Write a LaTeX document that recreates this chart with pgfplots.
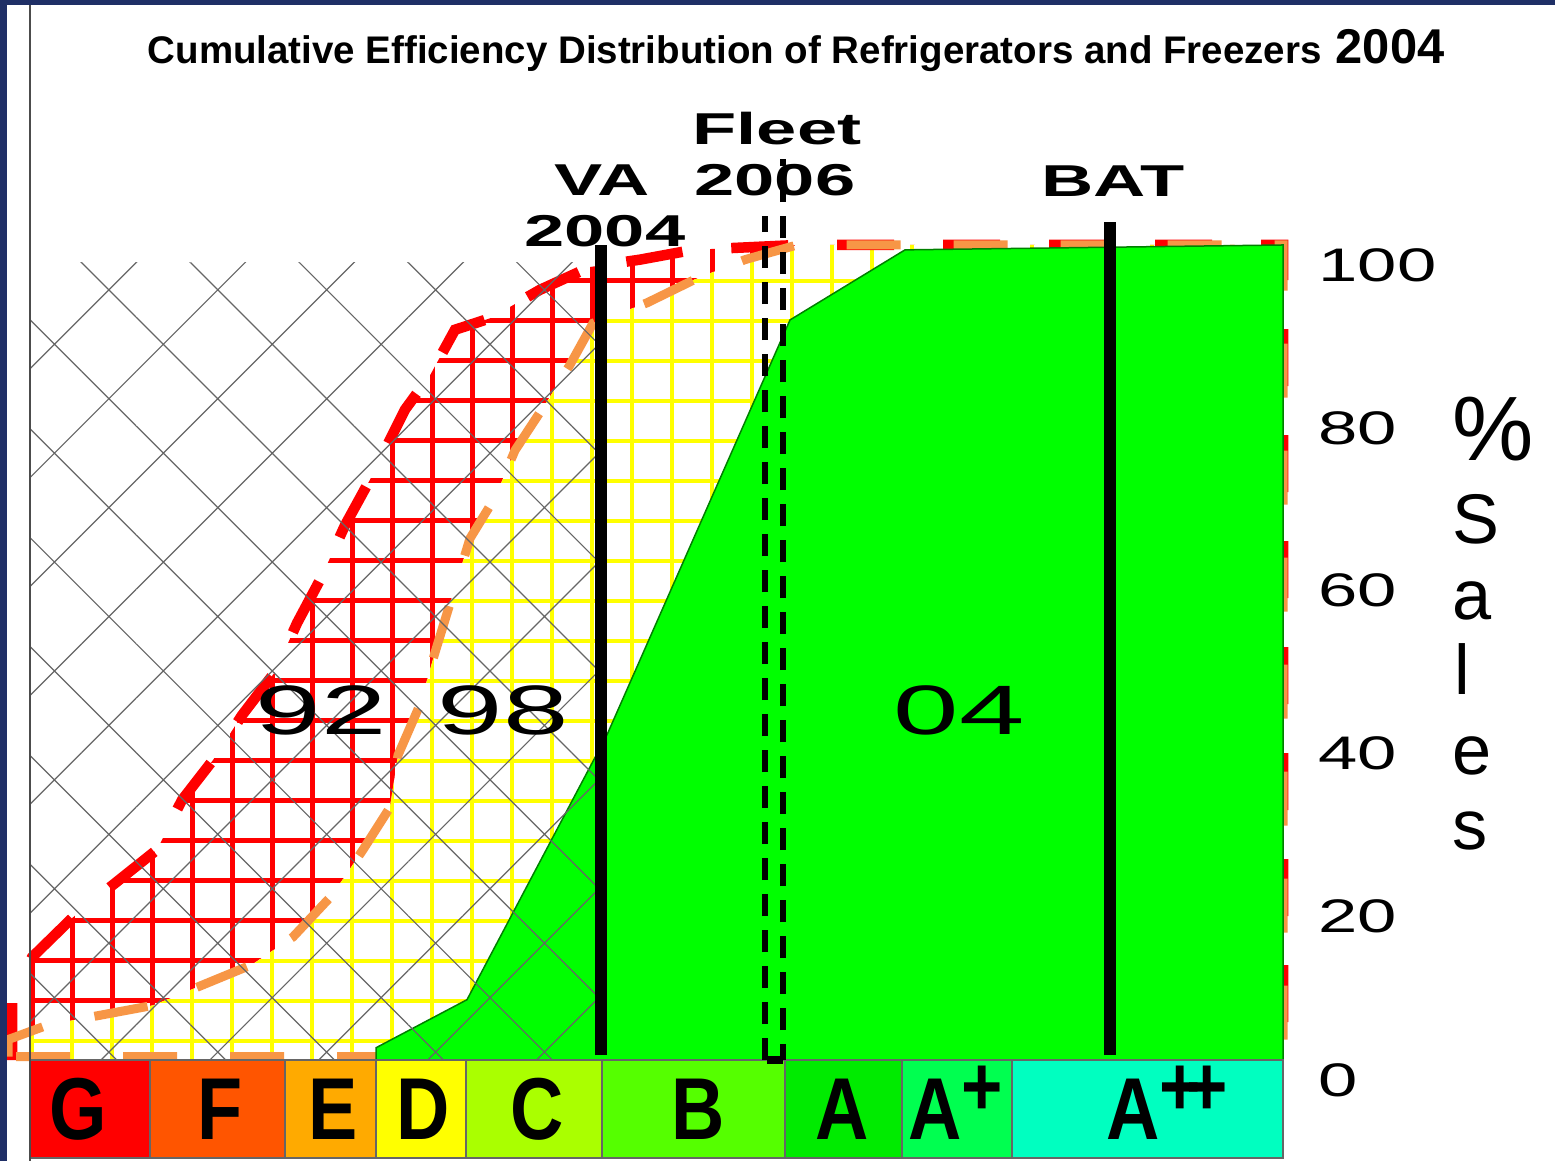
\documentclass[border=0pt]{standalone}
\usepackage{fontspec}
\setmainfont{Liberation Sans}
\newfontfamily\wideA[FakeStretch=1.62]{Liberation Sans}
\newfontfamily\wideB[FakeStretch=1.5]{Liberation Sans}
\newfontfamily\wideC[FakeStretch=1.68]{Liberation Sans}
\newfontfamily\narrowA[FakeStretch=0.84]{Liberation Sans}
\usepackage{pgfplots}
\pgfplotsset{compat=1.18}
\usepackage{pgfplotstable}
\usetikzlibrary{patterns.meta}

\definecolor{navy}{RGB}{31,47,102}
\definecolor{dashorange}{RGB}{247,150,70}
\definecolor{cG}{RGB}{255,0,0}
\definecolor{cF}{RGB}{255,85,0}
\definecolor{cE}{RGB}{255,170,0}
\definecolor{cD}{RGB}{255,255,0}
\definecolor{cC}{RGB}{170,255,0}
\definecolor{cB}{RGB}{85,255,0}
\definecolor{cA}{RGB}{0,235,0}
\definecolor{cAp}{RGB}{0,255,80}
\definecolor{cApp}{RGB}{0,255,192}
\definecolor{grn}{RGB}{0,255,0}

% cumulative distribution 1992 (red)
\pgfplotstableread{
x y
12 0
12 7.7
32 12.6
72 17.4
110 21.2
157 25.8
182 31.9
213 36.8
242 42.3
275 47.6
297 53.6
320 58.9
345 65.6
370 71.2
405 79.8
430 84
455 89.6
490 91
540 94.5
590 97.3
640 98.2
693 99.4
797 100
1283 100
1283 0
}\redline
\pgfplotstableread{
x y
30 0
30 12.3
32 12.6
72 17.4
110 21.2
157 25.8
182 31.9
213 36.8
242 42.3
275 47.6
297 53.6
320 58.9
345 65.6
370 71.2
405 79.8
430 84
455 89.6
490 91
540 94.5
590 97.3
640 98.2
693 99.4
797 100
1283 100
1283 0
}\redfill
% cumulative distribution 1998 (orange)
\pgfplotstableread{
x y
8 0.4
8 2.5
48 4.3
153 6.7
252 11.7
293 15.1
332 20.2
363 25.8
390 31
398 37.4
420 43.6
435 50
450 56
470 64
495 69
515 74.8
545 80.4
570 85.3
593 90.4
647 92.9
697 95.9
745 98.2
797 100
1283 100
1283 0.4
8 0.4
}\orangeline
\pgfplotstableread{
x y
30 0
30 3.6
48 4.3
153 6.7
252 11.7
293 15.1
332 20.2
363 25.8
390 31
398 37.4
420 43.6
435 50
450 56
470 64
495 69
515 74.8
545 80.4
570 85.3
593 90.4
647 92.9
697 95.9
745 98.2
797 100
1283 100
1283 0
}\yellowfill
% cumulative distribution 2004 (green)
\pgfplotstableread{
x y
376 0
376 1.5
467 7.4
607 39.9
790 90.8
905 99.4
1283 100
1283 0
376 0
}\greenfill

\tikzset{every node/.append style={inner sep=0pt}}

\begin{document}
\begin{tikzpicture}
\begin{axis}[
  width=155.5mm, height=116.1mm, scale only axis,
  xmin=0, xmax=1555, ymin=-12.39, ymax=130.06,
  axis line style={draw=none}, ticks=none,
  axis background/.style={fill=white},
]
% 1992 area: red grid
\addplot[draw=none, pattern={Hatch[angle=0,distance=4mm,xshift=-0.8mm,line width=0.5mm]}, pattern color=red] table {\redfill};
% 1998 area: yellow grid on white
\addplot[draw=none, fill=white] table {\yellowfill};
\addplot[draw=none, pattern={Hatch[angle=0,distance=4mm,xshift=-0.8mm,line width=0.45mm]}, pattern color=yellow] table {\yellowfill};
% outlines
\addplot[red, line width=1.05mm, line cap=butt, dash pattern=on 5.7mm off 4.9mm] table {\redline};
\addplot[dashorange, line width=0.9mm, line cap=butt, dash pattern=on 5.4mm off 5.3mm] table {\orangeline};
% 2004 area
\addplot[fill=grn, draw=black!50!green, line width=0.15mm] table {\greenfill};
% earlier area: grey crosshatch
\addplot[draw=none, pattern={Hatch[angle=45,distance=7.7mm,line width=0.12mm]}, pattern color=black!60] coordinates {(30,0) (600,0) (600,97.8) (30,97.8)};

% energy class band
\addplot[fill=cG,  draw=black!60, line width=0.15mm] coordinates {(30,0) (150,0) (150,-12.02) (30,-12.02) (30,0)};
\addplot[fill=cF,  draw=black!60, line width=0.15mm] coordinates {(150,0) (285,0) (285,-12.02) (150,-12.02) (150,0)};
\addplot[fill=cE,  draw=black!60, line width=0.15mm] coordinates {(285,0) (376,0) (376,-12.02) (285,-12.02) (285,0)};
\addplot[fill=cD,  draw=black!60, line width=0.15mm] coordinates {(376,0) (466,0) (466,-12.02) (376,-12.02) (376,0)};
\addplot[fill=cC,  draw=black!60, line width=0.15mm] coordinates {(466,0) (602,0) (602,-12.02) (466,-12.02) (466,0)};
\addplot[fill=cB,  draw=black!60, line width=0.15mm] coordinates {(602,0) (785,0) (785,-12.02) (602,-12.02) (602,0)};
\addplot[fill=cA,  draw=black!60, line width=0.15mm] coordinates {(785,0) (902,0) (902,-12.02) (785,-12.02) (785,0)};
\addplot[fill=cAp, draw=black!60, line width=0.15mm] coordinates {(902,0) (1012,0) (1012,-12.02) (902,-12.02) (902,0)};
\addplot[fill=cApp,draw=black!60, line width=0.15mm] coordinates {(1012,0) (1283,0) (1283,-12.02) (1012,-12.02) (1012,0)};

\begin{scope}[font=\narrowA\bfseries\fontsize{25pt}{25pt}\selectfont]
\node[anchor=base] at (axis cs:78,-9.8) {G};
\node[anchor=base] at (axis cs:220,-9.8) {F};
\node[anchor=base] at (axis cs:333,-9.8) {E};
\node[anchor=base] at (axis cs:423,-9.8) {D};
\node[anchor=base] at (axis cs:537,-9.8) {C};
\node[anchor=base] at (axis cs:698,-9.8) {B};
\node[anchor=base] at (axis cs:842,-9.8) {A};
\node[anchor=base] at (axis cs:956,-9.8) {A\raisebox{2.4mm}{\fontsize{24pt}{24pt}\selectfont +}};
\node[anchor=base] at (axis cs:1167,-9.8) {A\raisebox{2.4mm}{\fontsize{24pt}{24pt}\selectfont +\kern-4pt+}};
\end{scope}

% labels
\node[anchor=base, font=\wideA\bfseries\fontsize{12.7pt}{15pt}\selectfont] at (axis cs:777,112.3) {Fleet};
\node[anchor=base, font=\wideA\bfseries\fontsize{12.7pt}{15pt}\selectfont] at (axis cs:775,106.1) {2006};
\node[anchor=base, font=\wideA\bfseries\fontsize{12.7pt}{15pt}\selectfont] at (axis cs:602,106.1) {VA};
\node[anchor=base, font=\wideA\bfseries\fontsize{12.7pt}{15pt}\selectfont] at (axis cs:605,99.8) {2004};
\node[anchor=base, font=\wideA\bfseries\fontsize{12.7pt}{15pt}\selectfont] at (axis cs:1113,106.0) {BAT};

\node[anchor=base west, font=\wideC\fontsize{19.9pt}{22pt}\selectfont] at (axis cs:255,39.9) {92};
\node[anchor=base west, font=\wideC\fontsize{19.9pt}{22pt}\selectfont] at (axis cs:437,39.9) {98};
\node[anchor=base west, font=\wideC\fontsize{19.9pt}{22pt}\selectfont] at (axis cs:893,39.9) {04};

% reference lines
\addplot[black, line width=1.2mm] coordinates {(601,0.6) (601,100)};
\addplot[black, line width=1.2mm] coordinates {(1110,0.6) (1110,102.8)};
\addplot[black, line width=0.65mm, dash pattern=on 2.2mm off 1.4mm] coordinates {(765,0) (765,103.5)};
\addplot[black, line width=0.65mm, dash pattern=on 2.2mm off 1.4mm, dash phase=0.6mm] coordinates {(783,0) (783,110.6)};
\addplot[black, line width=0.8mm] coordinates {(767,0) (783,0)};

% right-hand scale
\begin{scope}[font=\wideB\fontsize{13.4pt}{15pt}\selectfont]
\node[anchor=base west] at (axis cs:1318,95.5) {100};
\node[anchor=base west] at (axis cs:1318,75.5) {80};
\node[anchor=base west] at (axis cs:1318,55.6) {60};
\node[anchor=base west] at (axis cs:1318,35.6) {40};
\node[anchor=base west] at (axis cs:1318,15.6) {20};
\node[anchor=base west] at (axis cs:1318,-4.5) {0};
\end{scope}
\node[anchor=base west, font=\fontsize{26pt}{28pt}\selectfont] at (axis cs:1452,73.6) {\%};
\begin{scope}[font=\fontsize{20pt}{22pt}\selectfont]
\node[anchor=base west] at (axis cs:1452,63.4) {S};
\node[anchor=base west] at (axis cs:1452,54.0) {a};
\node[anchor=base west] at (axis cs:1454,44.8) {l};
\node[anchor=base west] at (axis cs:1452,35.0) {e};
\node[anchor=base west] at (axis cs:1452,25.8) {s};
\end{scope}

% title
\node[anchor=base west, font=\bfseries\fontsize{10.95pt}{12pt}\selectfont] at (axis cs:147,122.3) {Cumulative Efficiency Distribution of Refrigerators and Freezers};
\node[anchor=base west, font=\bfseries\fontsize{13.9pt}{15pt}\selectfont] at (axis cs:1335,122.3) {2004};

% frame
\draw[black!70, line width=0.15mm] (axis cs:30,-12.39) -- (axis cs:30,129.45);
\fill[navy] (axis cs:0,-12.39) rectangle (axis cs:7,130.06);
\fill[navy] (axis cs:0,129.45) rectangle (axis cs:1555,130.06);
\end{axis}
\end{tikzpicture}
\end{document}
